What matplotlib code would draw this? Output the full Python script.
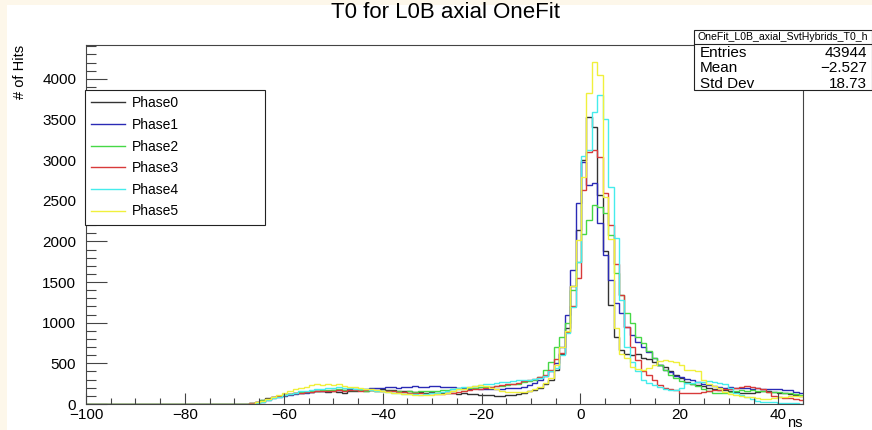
import numpy as np
import matplotlib
matplotlib.use('Agg')
import matplotlib.pyplot as plt
from matplotlib.patches import Rectangle
from matplotlib.ticker import MultipleLocator

plt.rcParams['font.family'] = ['Liberation Sans', 'DejaVu Sans']

# 132 bins of 1.1 ns starting at -100 ns; bins below -68 ns are empty
n_empty = 29

phase0 = [0] * n_empty + [
    5, 15, 30, 50, 70, 85, 100, 115, 125, 135,
    140, 150, 145, 155, 160, 150, 165, 150, 140, 155,
    160, 170, 165, 175, 170, 180, 175, 170, 165, 160,
    155, 150, 145, 140, 145, 135, 130, 140, 130, 125,
    130, 120, 125, 115, 110, 105, 100, 100, 105, 110,
    120, 140, 160, 175, 200, 240, 300, 420, 620, 935,
    1450, 2140, 3000, 3534, 3403, 2571, 1886, 1218, 828, 664,
    620, 600, 610, 560, 550, 520, 480, 450, 400, 360,
    320, 270, 250, 230, 220, 200, 180, 175, 170, 160,
    150, 140, 135, 130, 145, 155, 160, 150, 140, 130,
    120, 110, 100]

phase1 = [0] * n_empty + [
    0, 5, 15, 30, 50, 70, 85, 100, 110, 120,
    130, 140, 150, 155, 160, 165, 170, 175, 170, 180,
    185, 190, 185, 195, 200, 195, 205, 210, 200, 215,
    210, 220, 215, 210, 220, 225, 215, 210, 205, 200,
    195, 190, 195, 185, 180, 190, 185, 190, 200, 195,
    200, 215, 235, 260, 300, 340, 400, 500, 705, 1095,
    1648, 2476, 2980, 2700, 2714, 2222, 1833, 1525, 1240, 1115,
    951, 849, 760, 700, 643, 561, 479, 420, 390, 350,
    330, 310, 290, 270, 250, 230, 220, 210, 200, 205,
    200, 195, 200, 190, 195, 185, 180, 190, 185, 175,
    170, 150, 130]

phase2 = [0] * n_empty + [
    3, 10, 25, 45, 65, 85, 100, 115, 125, 135,
    145, 150, 160, 165, 170, 175, 170, 180, 175, 170,
    175, 170, 165, 170, 160, 165, 160, 155, 160, 150,
    155, 150, 160, 155, 165, 160, 170, 175, 180, 185,
    190, 195, 200, 205, 210, 215, 220, 225, 230, 240,
    250, 265, 280, 300, 330, 418, 520, 700, 828, 1000,
    1402, 1750, 2090, 2263, 2448, 2420, 2345, 2080, 1607, 1341,
    1119, 1000, 828, 756, 650, 560, 480, 418, 360, 316,
    280, 254, 240, 220, 190, 160, 140, 131, 140, 150,
    160, 170, 165, 170, 160, 155, 150, 150, 145, 140,
    130, 120, 110]

phase3 = [0] * n_empty + [
    2, 8, 20, 40, 60, 80, 95, 110, 120, 130,
    140, 145, 150, 155, 160, 165, 160, 170, 165, 175,
    170, 165, 175, 170, 165, 160, 165, 155, 150, 145,
    140, 135, 130, 125, 130, 120, 125, 130, 140, 150,
    160, 170, 180, 190, 200, 210, 220, 230, 240, 250,
    260, 280, 295, 310, 330, 360, 420, 550, 627, 889,
    1200, 1546, 2632, 3095, 3124, 3042, 2591, 2201, 1722, 1341,
    951, 705, 541, 400, 357, 300, 230, 200, 190, 170,
    140, 130, 130, 135, 150, 165, 170, 175, 180, 190,
    200, 210, 220, 215, 200, 180, 150, 100, 80, 75,
    70, 60, 55]

phase4 = [0] * n_empty + [
    0, 5, 15, 30, 50, 70, 90, 110, 125, 140,
    155, 165, 175, 185, 190, 200, 195, 205, 200, 195,
    190, 185, 180, 175, 165, 160, 150, 140, 130, 125,
    120, 125, 115, 120, 130, 140, 150, 165, 180, 195,
    205, 215, 225, 235, 240, 250, 260, 270, 274, 280,
    290, 295, 300, 310, 320, 340, 400, 443, 603, 873,
    1197, 1750, 3050, 3124, 3596, 3801, 3505, 2673, 2038, 1280,
    705, 520, 400, 293, 254, 230, 213, 190, 170, 170,
    200, 254, 260, 270, 275, 280, 270, 260, 250, 200,
    130, 110, 90, 60, 40, 30, 20, 20, 15, 15,
    10, 10, 5]

phase5 = [0] * n_empty + [
    0, 5, 20, 40, 65, 90, 115, 140, 165, 185,
    200, 215, 230, 240, 235, 245, 230, 250, 225, 215,
    205, 200, 190, 180, 170, 160, 150, 140, 130, 125,
    120, 115, 110, 115, 110, 120, 125, 140, 160, 180,
    190, 210, 225, 230, 220, 200, 180, 160, 150, 150,
    150, 150, 160, 180, 210, 258, 320, 480, 700, 900,
    1450, 2017, 2796, 3822, 4203, 4047, 2550, 2030, 930, 620,
    560, 459, 430, 420, 440, 480, 530, 540, 530, 520,
    480, 420, 418, 400, 300, 250, 220, 200, 150, 120,
    110, 100, 90, 80, 70, 60, 60, 70, 80, 90,
    100, 100, 95]

labels = ['Phase0', 'Phase1', 'Phase2', 'Phase3', 'Phase4', 'Phase5']
colors = ['#333333', '#2a2ab5', '#46d846', '#d83a3a', '#45ecec', '#f0f03c']
series = [phase0, phase1, phase2, phase3, phase4, phase5]

edges = -100 + 1.1 * np.arange(len(phase0) + 1)

W, H = 872, 430
fig = plt.figure(figsize=(W / 100, H / 100), dpi=100)
fig.patch.set_facecolor('#fdf7ea')
fig.add_artist(Rectangle((7 / W, 0), 1, 1 - 5 / H, transform=fig.transFigure,
                         facecolor='white', edgecolor='none', zorder=0))

ax = fig.add_axes([86 / W, 1 - 404 / H, (803 - 86) / W, (404 - 45) / H])
ax.set_facecolor('white')

for vals, lab, col in zip(series, labels, colors):
    ax.stairs(vals, edges, color=col, lw=1.0, label=lab, baseline=None)

ax.set_xlim(-100, 45)
ax.set_ylim(0, 4416)

ax.set_xticks(range(-100, 41, 20))
ax.xaxis.set_minor_locator(MultipleLocator(5))
ax.set_yticks(range(0, 4001, 500))
ax.yaxis.set_minor_locator(MultipleLocator(100))
ax.tick_params(axis='x', which='major', direction='in', length=8, width=0.8,
               color='#444444', labelsize=11, pad=3)
ax.tick_params(axis='x', which='minor', direction='in', length=4, width=0.8, color='#444444')
ax.tick_params(axis='y', which='major', direction='in', length=15, width=0.8,
               color='#444444', labelsize=11, pad=7)
ax.tick_params(axis='y', which='minor', direction='in', length=7.5, width=0.8, color='#444444')
for s in ax.spines.values():
    s.set_color('#444444')
    s.set_linewidth(0.8)

fig.text(445 / W, 1 - 13 / H, 'T0 for L0B axial OneFit', ha='center', va='center', fontsize=16)
fig.text(20 / W, 1 - 45 / H, '# of Hits', rotation=90, ha='center', va='top', fontsize=10.5)
fig.text(803 / W, 1 - 423 / H, 'ns', ha='right', va='center', fontsize=10.5)

leg = ax.legend(loc='upper left', bbox_to_anchor=(85 / W, 1 - 226 / H, 180 / W, 136 / H),
                bbox_transform=fig.transFigure, mode='expand', borderaxespad=0,
                fancybox=False, edgecolor='#222222', fontsize=10, handlelength=2.4,
                handletextpad=0.5, labelspacing=0.55, borderpad=0.45, framealpha=1)
leg.get_frame().set_linewidth(0.8)

# statistics box
bx0, bx1, by0, by1, hy = 694, 871.5, 30, 90, 44
fig.add_artist(Rectangle((bx0 / W, 1 - by1 / H), (bx1 - bx0) / W, (by1 - by0) / H,
                         transform=fig.transFigure, facecolor='white', edgecolor='#222222', lw=0.8))
fig.add_artist(plt.Line2D([bx0 / W, bx1 / W], [1 - hy / H, 1 - hy / H],
                          transform=fig.transFigure, color='#222222', lw=0.8))
fig.text((bx0 + bx1) / 2 / W, 1 - 37 / H, 'OneFit_L0B_axial_SvtHybrids_T0_h',
         ha='center', va='center', fontsize=7.6)
stat_names = ['Entries', 'Mean', 'Std Dev']
stat_vals = ['43944', '\u22122.527', '18.73']
for k, (nm, v) in enumerate(zip(stat_names, stat_vals)):
    yy = 1 - (53 + 15.3 * k) / H
    fig.text(700 / W, yy, nm, ha='left', va='center', fontsize=11)
    fig.text(867 / W, yy, v, ha='right', va='center', fontsize=11)

fig.savefig('out.png', dpi=100, facecolor=fig.get_facecolor())
